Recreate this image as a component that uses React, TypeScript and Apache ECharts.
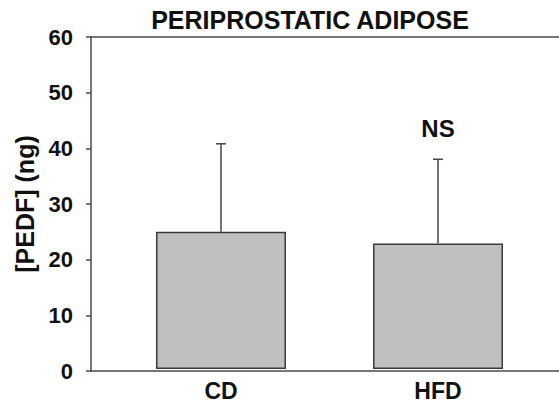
import React, { useEffect, useRef } from "react";
import * as echarts from "echarts";

const title = "PERIPROSTATIC ADIPOSE";
const yAxisName = "[PEDF] (ng)";
const categories = ["CD", "HFD"];
const means = [24.8, 22.7];
const errorTops = [40.7, 37.9];
const significance = ["", "NS"];
const yMin = 0;
const yMax = 60;
const yInterval = 10;

const FONT = "Arial, 'Liberation Sans', Helvetica, sans-serif";
const TEXT = "#111111";
const AXIS = "#4a4a4a";

export default function App() {
  const ref = useRef<HTMLDivElement>(null);

  useEffect(() => {
    document.body.style.margin = "0";
    if (!ref.current) return;
    const chart = echarts.init(ref.current, undefined, { renderer: "svg" });

    const errData = categories.map((c, i) => [i, means[i], errorTops[i]]);

    chart.setOption({
      animation: false,
      backgroundColor: "#ffffff",
      title: {
        text: title,
        left: 305,
        top: 2,
        textAlign: "center",
        textStyle: { fontFamily: FONT, fontSize: 25, fontWeight: "bold", color: TEXT },
      },
      grid: [
        { left: 91, top: 37, right: 0, bottom: 31 },
        { left: 112.5, top: 37, width: 434, bottom: 31 },
      ],
      xAxis: [
        {
          gridIndex: 0,
          type: "category",
          data: categories,
          position: "bottom",
          axisLine: { show: true, lineStyle: { color: AXIS, width: 1.5 } },
          axisTick: { show: false },
          axisLabel: { show: false },
          splitLine: { show: false },
        },
        {
          gridIndex: 0,
          type: "category",
          data: categories,
          position: "top",
          axisLine: { show: true, lineStyle: { color: AXIS, width: 1.5 } },
          axisTick: { show: false },
          axisLabel: { show: false },
          splitLine: { show: false },
        },
        {
          gridIndex: 1,
          type: "category",
          data: categories,
          axisLine: { show: false },
          axisTick: { show: false },
          axisLabel: {
            show: true,
            margin: 10,
            fontFamily: FONT,
            fontSize: 23,
            fontWeight: "bold",
            color: TEXT,
          },
        },
      ],
      yAxis: [
        {
          gridIndex: 0,
          type: "value",
          min: yMin,
          max: yMax,
          interval: yInterval,
          name: yAxisName,
          nameLocation: "middle",
          nameGap: 49,
          nameTextStyle: { fontFamily: FONT, fontSize: 25, fontWeight: "bold", color: TEXT },
          axisLine: { show: true, lineStyle: { color: AXIS, width: 1.5 } },
          axisTick: { show: true, length: 5, lineStyle: { color: AXIS, width: 1.5 } },
          axisLabel: {
            margin: 18,
            fontFamily: FONT,
            fontSize: 22,
            fontWeight: "bold",
            color: TEXT,
          },
          splitLine: { show: false },
        },
        {
          gridIndex: 1,
          type: "value",
          min: yMin,
          max: yMax,
          interval: yInterval,
          show: false,
          splitLine: { show: false },
        },
      ],
      series: [
        {
          type: "bar",
          xAxisIndex: 2,
          yAxisIndex: 1,
          data: means,
          barWidth: 130,
          itemStyle: { color: "#c0c0c0", borderColor: "#3a3a3a", borderWidth: 1.5 },
          z: 2,
        },
        {
          type: "custom",
          xAxisIndex: 2,
          yAxisIndex: 1,
          data: errData,
          z: 3,
          renderItem: (params: any, api: any) => {
            const idx = api.value(0);
            const p0 = api.coord([idx, api.value(1)]);
            const p1 = api.coord([idx, api.value(2)]);
            const lineStyle = { stroke: "#444444", lineWidth: 1.5 };
            const children: any[] = [
              { type: "line", shape: { x1: p0[0], y1: p0[1], x2: p1[0], y2: p1[1] }, style: lineStyle },
              { type: "line", shape: { x1: p1[0] - 5, y1: p1[1], x2: p1[0] + 5, y2: p1[1] }, style: lineStyle },
            ];
            const sig = significance[params.dataIndex];
            if (sig) {
              children.push({
                type: "text",
                x: p1[0],
                y: p1[1] - 31,
                style: {
                  text: sig,
                  fill: TEXT,
                  fontFamily: FONT,
                  fontSize: 24,
                  fontWeight: "bold",
                  align: "center",
                  verticalAlign: "middle",
                },
              });
            }
            return { type: "group", children };
          },
        },
      ],
    });

    return () => chart.dispose();
  }, []);

  return <div ref={ref} style={{ width: 559, height: 402 }} />;
}
